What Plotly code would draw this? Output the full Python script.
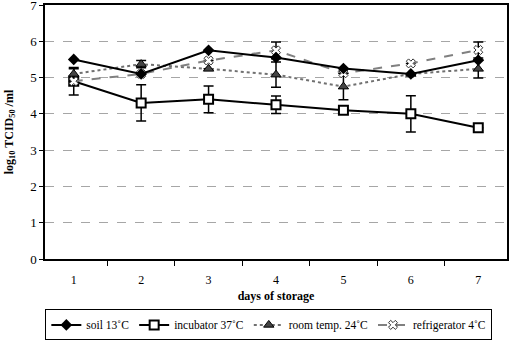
import plotly.graph_objects as go

days = ["1", "2", "3", "4", "5", "6", "7"]

soil = [5.5, 5.1, 5.75, 5.55, 5.25, 5.1, 5.48]
incubator = [4.9, 4.3, 4.4, 4.25, 4.1, 4.0, 3.62]
incubator_err = [0.38, 0.5, 0.37, 0.24, 0.0, 0.5, 0.0]
room = [5.1, 5.37, 5.24, 5.08, 4.75, 5.1, 5.24]
room_err = [0.14, 0.1, 0.0, 0.35, 0.36, 0.0, 0.25]
fridge = [4.9, 5.1, 5.47, 5.75, 5.12, 5.39, 5.76]
fridge_err = [0.0, 0.0, 0.0, 0.23, 0.0, 0.0, 0.22]

y_ticks = [0, 1, 2, 3, 4, 5, 6, 7]

FONT = "Liberation Serif, Times New Roman, serif"

fig = go.Figure()

def err(vals):
    return dict(type="data", array=vals, visible=True, color="black",
                thickness=1.5, width=5)

fig.add_trace(go.Scatter(
    x=days, y=incubator, name="incubator 37˚C", mode="lines+markers",
    line=dict(color="black", width=2),
    marker=dict(symbol="square", size=9, color="white",
                line=dict(color="black", width=2)),
    error_y=err(incubator_err)))

fig.add_trace(go.Scatter(
    x=days, y=room, name="room temp. 24˚C", mode="lines+markers",
    line=dict(color="#707070", width=2, dash="dot"),
    marker=dict(symbol="triangle-up", size=9, color="#444444",
                line=dict(color="black", width=1)),
    error_y=err(room_err)))

fig.add_trace(go.Scatter(
    x=days, y=fridge, name="refrigerator 4˚C", mode="lines+markers",
    line=dict(color="#808080", width=2, dash="dash"),
    marker=dict(symbol="x", size=8, color="white",
                line=dict(color="#333333", width=1)),
    error_y=err(fridge_err)))

fig.add_trace(go.Scatter(
    x=days, y=soil, name="soil 13˚C", mode="lines+markers",
    line=dict(color="black", width=2),
    marker=dict(symbol="diamond", size=9, color="black")))

fig.update_layout(
    width=517, height=340,
    margin=dict(l=45, r=10, t=5, b=81),
    plot_bgcolor="white", paper_bgcolor="white",
    font=dict(family=FONT, size=12, color="black"),
    legend=dict(orientation="h", xref="container", yref="container",
                x=0.52, xanchor="center",
                y=0.09, yanchor="top",
                traceorder="normal",
                bordercolor="black", borderwidth=1,
                font=dict(family=FONT, size=11.5),
                itemwidth=30, tracegroupgap=0),
    showlegend=True,
)

fig.update_xaxes(
    type="category", tickson="boundaries", ticks="outside", ticklen=5,
    tickcolor="black", showline=True, linecolor="black", linewidth=1.5,
    mirror=True, showgrid=False, automargin=False,
    ticklabelstandoff=9,
    title=dict(text="<b>days of storage</b>", font=dict(family=FONT, size=12),
               standoff=5),
    tickfont=dict(family=FONT, size=12),
)

fig.update_yaxes(
    range=[0, 7], tickvals=y_ticks, ticks="outside", ticklen=4,
    tickcolor="black", showline=True, linecolor="black", linewidth=1.5,
    mirror=True, showgrid=True, gridcolor="#a6a6a6", griddash="dash",
    gridwidth=1, zeroline=False, automargin=False,
    ticklabeloverflow="allow",
    title=dict(text="<b>log<sub>10</sub> TCID<sub>50</sub> /ml</b>",
               font=dict(family=FONT, size=12), standoff=14),
    tickfont=dict(family=FONT, size=13),
)

order = ["soil 13˚C", "incubator 37˚C", "room temp. 24˚C", "refrigerator 4˚C"]
ranks = {n: i for i, n in enumerate(order)}
for t in fig.data:
    t.legendrank = ranks[t.name] + 1

fig.write_html("out.html",
               config={"displayModeBar": False},
               post_script="document.body.style.margin='0px';")
